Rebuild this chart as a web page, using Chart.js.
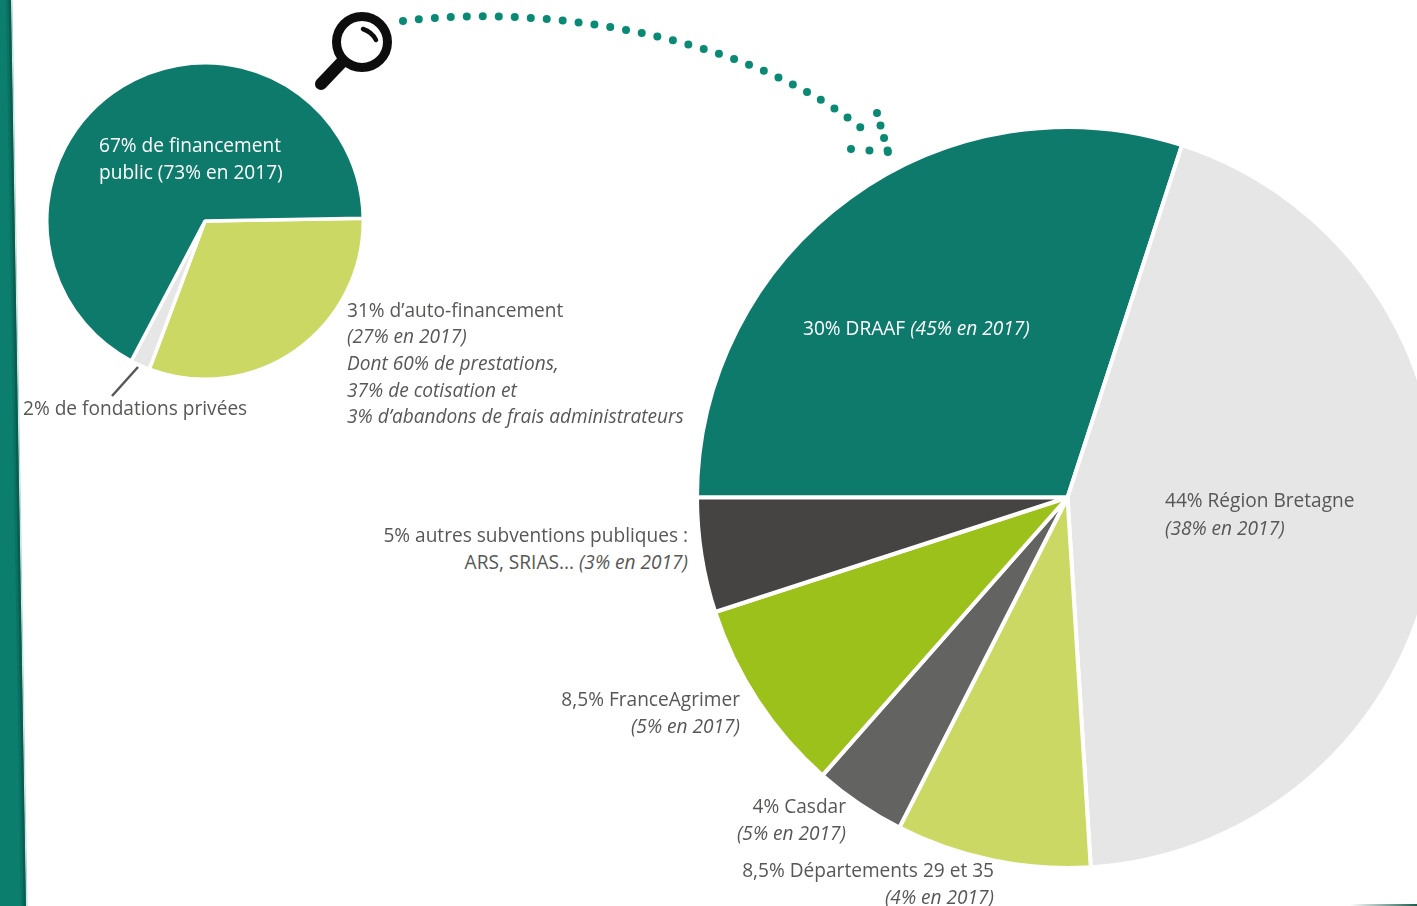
<!DOCTYPE html>
<html lang="fr"><head><meta charset="utf-8">
<style>
html,body{margin:0;padding:0;background:#fff;width:1417px;height:906px;overflow:hidden}
#page{position:relative;width:1417px;height:906px;overflow:hidden;background:#fff}
canvas{position:absolute}
#foot{position:absolute;left:1350px;top:904px;width:67px;height:2px;background:linear-gradient(90deg,#fff,#1d5c4e)}
svg{position:absolute;left:0;top:0}
.t{position:absolute;white-space:nowrap;font-family:"Open Sans",sans-serif;font-size:19.1px;color:#575756;line-height:0}
.t.r{transform:translateX(-100%)}
.w{color:#fff}
i{font-style:italic}
</style></head><body>
<div id="page">
<svg id="deco" width="1417" height="906" fill="none">
  <defs>
    <clipPath id="bandClip"><path d="M0 0H11L26 906H0Z"/></clipPath>
    <filter id="soft" x="-10%" y="-10%" width="120%" height="120%"><feGaussianBlur stdDeviation=".7"/></filter>
  </defs>
  <path d="M0 0H11L26 906H0Z" fill="#0c7e6e"/>
  <g clip-path="url(#bandClip)">
    <path d="M11 0L26 906" stroke="#064f43" stroke-width="10" opacity=".25"/>
    <path d="M11 0L26 906" stroke="#064f43" stroke-width="5" opacity=".55"/>
  </g>
  <path d="M12 0L27 906" stroke="#8fc4ba" stroke-width="1" opacity=".7"/>
  <path d="M403 21C560 2 760 42 866 132" stroke="#0a8a74" stroke-width="8" stroke-linecap="round" stroke-dasharray="0 16"/>
  <path d="M877 113L888 152" stroke="#0a8a74" stroke-width="8" stroke-linecap="round" stroke-dasharray="0 13"/>
  <path d="M851 149L888 152" stroke="#0a8a74" stroke-width="8" stroke-linecap="round" stroke-dasharray="0 18.5"/>
  <g filter="url(#soft)">
    <circle cx="362" cy="42" r="25.5" stroke="#111" stroke-width="9"/>
    <path d="M341 63L321 84" stroke="#111" stroke-width="12" stroke-linecap="round"/>
    <path d="M363 29Q372 32 376 40" stroke="#111" stroke-width="4.5" stroke-linecap="round"/>
  </g>
  <path d="M138 367L112 396" stroke="#575756" stroke-width="2.5"/>
</svg>
<canvas id="small" width="320" height="320" style="left:45px;top:61px"></canvas>
<canvas id="large" width="745" height="745" style="left:695px;top:125px"></canvas>
<div id="foot"></div>
</div>
<script src="https://cdn.jsdelivr.net/npm/chart.js@4"></script>
<script>
const smallCategories = ["Auto-financement", "Fondations privées", "Financement public"];
const smallValues = [31, 2, 67];
const smallColors = ["#cbd964", "#e6e6e6", "#0e7a6b"];

const largeCategories = ["DRAAF", "Région Bretagne", "Départements 29 et 35", "Casdar", "FranceAgrimer", "Autres subventions publiques"];
const largeValues = [30, 44, 8.5, 4, 8.5, 5];
const largeColors = ["#0e7a6b", "#e6e6e6", "#cbd964", "#636361", "#9dc11b", "#454442"];

function pie(id, labels, data, colors, rotation, border) {
  new Chart(document.getElementById(id), {
    type: "pie",
    data: { labels, datasets: [{ data, backgroundColor: colors, borderColor: "#fff", borderWidth: border }] },
    options: {
      responsive: false, animation: false, rotation,
      layout: { padding: 0 },
      plugins: { legend: { display: false }, tooltip: { enabled: false } }
    }
  });
}
pie("small", smallCategories, smallValues, smallColors, 89, 3.5);
pie("large", largeCategories, largeValues, largeColors, 270, 4);

// [anchor, x, baseline, white?, html]
const textLines = [
  ["l", 99, 152, 1, "67% de financement"],
  ["l", 99, 179, 1, "public (73% en 2017)"],
  ["l", 347, 317, 0, "31% d’auto-financement"],
  ["l", 347, 343, 0, "<i>(27% en 2017)</i>"],
  ["l", 347, 370, 0, "<i>Dont 60% de prestations,</i>"],
  ["l", 347, 397, 0, "<i>37% de cotisation et</i>"],
  ["l", 347, 423, 0, "<i>3% d’abandons de frais administrateurs</i>"],
  ["l", 23, 415, 0, "2% de fondations privées"],
  ["l", 803, 335, 1, "30% DRAAF <i>(45% en 2017)</i>"],
  ["l", 1165, 507, 0, "44% Région Bretagne"],
  ["l", 1165, 535, 0, "<i>(38% en 2017)</i>"],
  ["r", 688, 542, 0, "5% autres subventions publiques :"],
  ["r", 688, 569, 0, "ARS, SRIAS... <i>(3% en 2017)</i>"],
  ["r", 740, 706, 0, "8,5% FranceAgrimer"],
  ["r", 740, 733, 0, "<i>(5% en 2017)</i>"],
  ["r", 846, 813, 0, "4% Casdar"],
  ["r", 846, 840, 0, "<i>(5% en 2017)</i>"],
  ["r", 994, 877, 0, "8,5% Départements 29 et 35"],
  ["r", 994, 904, 0, "<i>(4% en 2017)</i>"]
];
const page = document.getElementById("page");
textLines.forEach(([a, x, y, w, html]) => {
  const d = document.createElement("div");
  d.className = "t" + (a === "r" ? " r" : "") + (w ? " w" : "");
  d.style.left = x + "px";
  d.style.top = (y - 7) + "px";
  d.innerHTML = html;
  page.appendChild(d);
});
</script>
</body></html>
